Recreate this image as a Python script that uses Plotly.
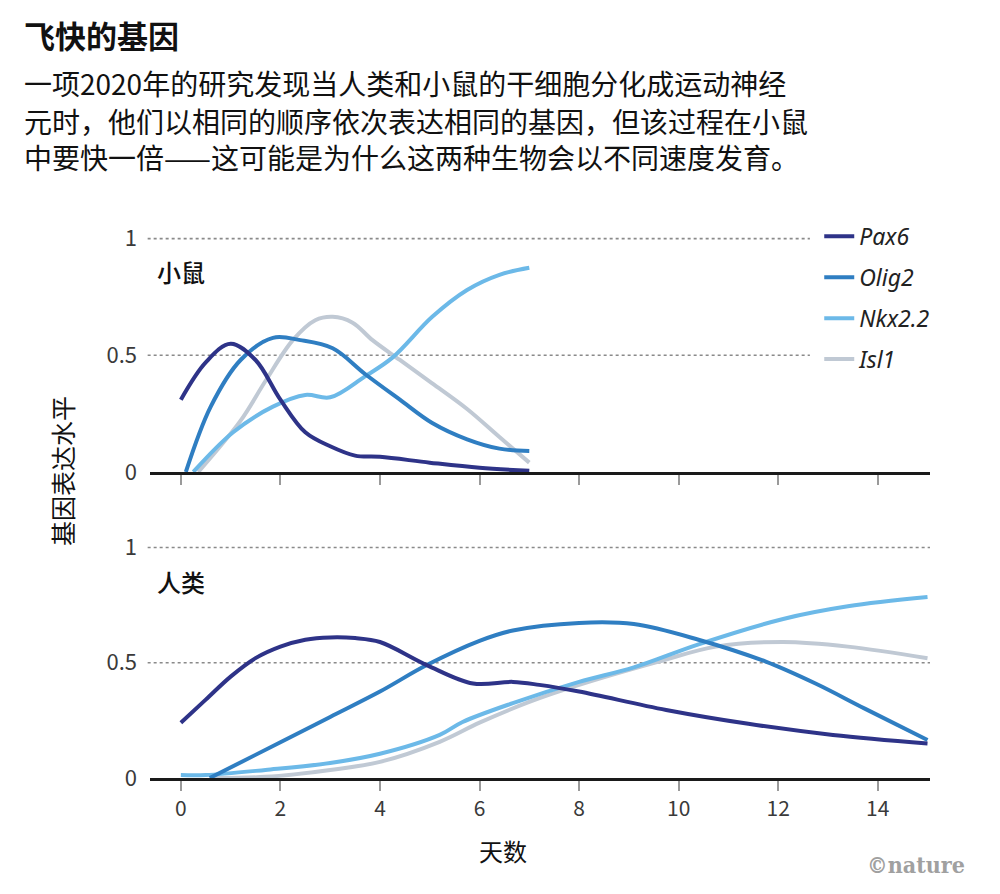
import plotly.graph_objects as go

# ---------------- data ----------------
genes = ["Pax6", "Olig2", "Nkx2.2", "Isl1"]
gene_colors = ["#2e3388", "#2f7ec2", "#6cb9e8", "#c0c9d4"]

# Mouse (小鼠)
mouse_pax6_x = [0, 0.5, 1.0, 1.5, 2.0, 2.5, 3.0, 3.5, 4.0, 5.0, 6.0, 7.0]
mouse_pax6_y = [0.31, 0.47, 0.55, 0.48, 0.31, 0.17, 0.11, 0.07, 0.065, 0.04, 0.018, 0.005]
mouse_olig2_x = [0.1, 0.6, 1.2, 1.85, 2.4, 3.05, 3.7, 4.4, 5.05, 5.75, 6.4, 7.0]
mouse_olig2_y = [0.0, 0.28, 0.48, 0.575, 0.565, 0.53, 0.42, 0.31, 0.21, 0.14, 0.10, 0.09]
mouse_nkx22_x = [0.25, 1.05, 1.85, 2.5, 3.0, 3.7, 4.25, 5.05, 5.75, 6.4, 7.0]
mouse_nkx22_y = [0.0, 0.17, 0.28, 0.33, 0.32, 0.41, 0.49, 0.665, 0.78, 0.845, 0.875]
mouse_isl1_x = [0.35, 1.2, 1.7, 2.25, 2.7, 3.05, 3.45, 3.85, 4.4, 5.05, 5.75, 6.4, 7.0]
mouse_isl1_y = [0.0, 0.22, 0.39, 0.565, 0.65, 0.665, 0.64, 0.565, 0.48, 0.38, 0.27, 0.15, 0.04]

# Human (人类)
human_pax6_x = [0, 0.5, 1.0, 1.5, 2.0, 2.5, 3.0, 3.5, 4.0, 4.94, 5.87, 6.67, 7.2, 8.0, 9.75, 11.4, 13.1, 15]
human_pax6_y = [0.24, 0.34, 0.44, 0.52, 0.57, 0.60, 0.61, 0.607, 0.59, 0.49, 0.41, 0.417, 0.404, 0.375, 0.295, 0.235, 0.187, 0.15]
human_olig2_x = [0.58, 2.0, 3.0, 4.0, 4.94, 6.0, 6.67, 8.0, 9.1, 10.4, 11.75, 12.75, 13.75, 15]
human_olig2_y = [0.0, 0.155, 0.265, 0.375, 0.49, 0.595, 0.64, 0.673, 0.668, 0.6, 0.505, 0.41, 0.30, 0.165]
human_nkx22_x = [0, 0.5, 1.7, 3.0, 4.0, 5.2, 5.66, 6.67, 8.0, 9.1, 10.4, 12.1, 13.4, 15]
human_nkx22_y = [0.013, 0.013, 0.035, 0.065, 0.105, 0.187, 0.243, 0.325, 0.417, 0.48, 0.58, 0.69, 0.745, 0.785]
human_isl1_x = [0.6, 1.7, 3.0, 4.0, 5.2, 6.0, 7.0, 8.0, 9.6, 10.75, 12.1, 13.4, 15]
human_isl1_y = [0.0, 0.005, 0.035, 0.07, 0.157, 0.24, 0.33, 0.404, 0.505, 0.57, 0.59, 0.57, 0.52]

x_ticks = [0, 2, 4, 6, 8, 10, 12, 14]
y_ticks = [0, 0.5, 1]
y_ticktext = ["0", "0.5", "1"]

title_text = "飞快的基因"
subtitle_lines = [
    "一项2020年的研究发现当人类和小鼠的干细胞分化成运动神经",
    "元时，他们以相同的顺序依次表达相同的基因，但该过程在小鼠",
    "中要快一倍——这可能是为什么这两种生物会以不同速度发育。",
]
panel_labels = ["小鼠", "人类"]
x_title = "天数"
y_title = "基因表达水平"

# --------------- figure ---------------
FONT = "Noto Sans CJK SC, Noto Sans, sans-serif"
mouse = [(mouse_pax6_x, mouse_pax6_y), (mouse_olig2_x, mouse_olig2_y),
         (mouse_nkx22_x, mouse_nkx22_y), (mouse_isl1_x, mouse_isl1_y)]
human = [(human_pax6_x, human_pax6_y), (human_olig2_x, human_olig2_y),
         (human_nkx22_x, human_nkx22_y), (human_isl1_x, human_isl1_y)]

fig = go.Figure()
draw_order = [3, 2, 1, 0]  # Isl1 at back, Pax6 on top
for i in draw_order:
    xs, ys = mouse[i]
    fig.add_trace(go.Scatter(
        x=xs, y=ys, mode="lines", name="<i>" + genes[i] + "</i>",
        line=dict(color=gene_colors[i], width=4, shape="spline", smoothing=1.0),
        xaxis="x", yaxis="y", legendrank=i + 1, legendgroup=genes[i],
        showlegend=True, hoverinfo="skip"))
for i in draw_order:
    xs, ys = human[i]
    fig.add_trace(go.Scatter(
        x=xs, y=ys, mode="lines", name=genes[i],
        line=dict(color=gene_colors[i], width=4, shape="spline", smoothing=1.0),
        xaxis="x2", yaxis="y2", legendrank=i + 1, legendgroup=genes[i],
        showlegend=False, hoverinfo="skip"))

xrange = [-0.62, 15.05]
axis_x_common = dict(
    range=xrange, showgrid=False, zeroline=False, showline=True,
    linecolor="#1a1a1a", linewidth=3, ticks="outside", ticklen=10,
    tickwidth=1.5, tickcolor="#9a9a9a", tickvals=x_ticks, fixedrange=True)
axis_y_common = dict(
    range=[0, 1.05], showgrid=False, zeroline=False, showline=False,
    tickvals=y_ticks, ticktext=y_ticktext, ticks="",
    ticklabelstandoff=12,
    tickfont=dict(family=FONT, size=22, color="#3a3a3a"), fixedrange=True)

# page body has an 8px margin, so the figure is drawn 8px right/down
fig.update_layout(
    width=1000, height=894,
    margin=dict(l=142, r=78, t=219, b=124),
    paper_bgcolor="white", plot_bgcolor="white",
    font=dict(family=FONT, color="#111111"),
    xaxis=dict(domain=[0, 1], anchor="y", showticklabels=False, **axis_x_common),
    yaxis=dict(domain=[0.5554, 1.0], anchor="x", **axis_y_common),
    xaxis2=dict(domain=[0, 1], anchor="y2", showticklabels=True,
                tickfont=dict(family=FONT, size=21, color="#3a3a3a"),
                **axis_x_common),
    yaxis2=dict(domain=[0, 0.4392], anchor="x2", **axis_y_common),
    legend=dict(x=0.858, y=1.022, xanchor="left", yanchor="top",
                font=dict(family="Noto Sans, sans-serif", size=23, color="#222222"),
                bgcolor="rgba(0,0,0,0)", itemwidth=30, tracegroupgap=8,
                traceorder="grouped"),
    showlegend=True,
)

# dotted gridlines at 0.5 and 1
shapes = []
for yv in [0.5, 1.0]:
    shapes.append(dict(type="line", xref="x domain", yref="y", x0=-0.003, x1=0.846,
                       y0=yv, y1=yv, layer="below",
                       line=dict(color="#8a8a8a", width=1.6, dash="dot")))
    shapes.append(dict(type="line", xref="x2 domain", yref="y2", x0=-0.003, x1=1.0,
                       y0=yv, y1=yv, layer="below",
                       line=dict(color="#8a8a8a", width=1.6, dash="dot")))
fig.update_layout(shapes=shapes)

def px_x(px):
    return (px - 150) / 780

def px_y(py):
    return (778 - py) / 551

ann = []
ann.append(dict(text=title_text, xref="paper", yref="paper", x=px_x(22), y=px_y(35),
                xanchor="left", yanchor="middle", showarrow=False,
                font=dict(family=FONT, size=31, color="#111111", weight="bold")))
for k, line in enumerate(subtitle_lines):
    ypx = [83, 121, 157][k]
    ann.append(dict(text=line, xref="paper", yref="paper", x=px_x(22), y=px_y(ypx),
                    xanchor="left", yanchor="middle", showarrow=False,
                    font=dict(family=FONT, size=28, color="#111111")))
ann.append(dict(text=panel_labels[0], xref="x", yref="y", x=-0.52, y=0.86,
                xanchor="left", yanchor="middle", showarrow=False,
                font=dict(family=FONT, size=24, color="#111111", weight=500)))
ann.append(dict(text=panel_labels[1], xref="x2", yref="y2", x=-0.52, y=0.852,
                xanchor="left", yanchor="middle", showarrow=False,
                font=dict(family=FONT, size=24, color="#111111", weight=500)))
ann.append(dict(text=x_title, xref="paper", yref="paper", x=px_x(503),
                y=px_y(850), xanchor="center", yanchor="middle", showarrow=False,
                font=dict(family=FONT, size=24, color="#111111")))
ann.append(dict(text=y_title, xref="paper", yref="paper", x=px_x(62),
                y=px_y(471), xanchor="center", yanchor="middle", showarrow=False,
                textangle=-90, font=dict(family=FONT, size=25, color="#111111")))
ann.append(dict(text="©nature", xref="paper", yref="paper", x=px_x(967),
                y=px_y(864), xanchor="right", yanchor="middle", showarrow=False,
                font=dict(family="DejaVu Serif Condensed, Liberation Serif, serif",
                          size=23, color="#a0a0a0", weight="bold")))
fig.update_layout(annotations=ann)

fig.write_html("out.html")
